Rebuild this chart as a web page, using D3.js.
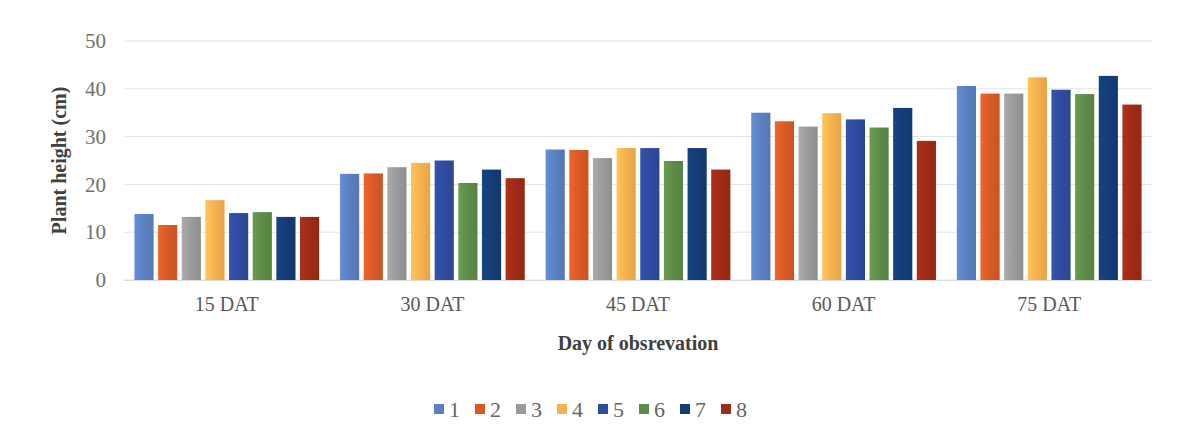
<!DOCTYPE html>
<html>
<head>
<meta charset="utf-8">
<script src="https://cdn.jsdelivr.net/npm/d3@7"></script>
<style>
  body { margin: 0; background: #fff; }
  svg text { font-family: "Liberation Serif", "DejaVu Serif", serif; }
</style>
</head>
<body>
<div id="chart"></div>
<script>
// data
const days = ["15 DAT", "30 DAT", "45 DAT", "60 DAT", "75 DAT"];
const treatments = ["1", "2", "3", "4", "5", "6", "7", "8"];
const t1 = [13.8, 22.2, 27.3, 35.0, 40.6];
const t2 = [11.5, 22.3, 27.2, 33.2, 39.0];
const t3 = [13.2, 23.6, 25.5, 32.1, 39.0];
const t4 = [16.7, 24.5, 27.6, 34.9, 42.4];
const t5 = [14.0, 25.0, 27.6, 33.6, 39.8];
const t6 = [14.2, 20.3, 24.9, 31.9, 38.9];
const t7 = [13.2, 23.1, 27.6, 36.0, 42.7];
const t8 = [13.2, 21.3, 23.1, 29.1, 36.7];
const yTicks = [0, 10, 20, 30, 40, 50];
const colors = ["#5b80c2", "#d85a26", "#9a9a9a", "#f4b14e", "#2f4b9e", "#5e8c48", "#143c76", "#9e2b16"];

const series = [t1, t2, t3, t4, t5, t6, t7, t8];

const W = 1186, H = 440;
const margin = { top: 41, right: 34, bottom: 160, left: 124 };
const width = W - margin.left - margin.right,
      height = H - margin.top - margin.bottom;

const svg = d3.select("#chart").append("svg")
    .attr("width", W)
    .attr("height", H);

// gradients to mimic the shaded bars
const defs = svg.append("defs");
colors.forEach((c, i) => {
    const g = defs.append("linearGradient")
        .attr("id", "grad" + i)
        .attr("x1", "0%").attr("x2", "100%").attr("y1", "0%").attr("y2", "0%");
    g.append("stop").attr("offset", "0%").attr("stop-color", d3.color(c).brighter(0.3));
    g.append("stop").attr("offset", "50%").attr("stop-color", c);
    g.append("stop").attr("offset", "100%").attr("stop-color", d3.color(c).darker(0.2));
});

const g = svg.append("g")
    .attr("transform", "translate(" + margin.left + "," + margin.top + ")");

const x0 = d3.scaleBand()
    .domain(days)
    .range([0, width])
    .paddingInner(0.09)
    .paddingOuter(0.045);

const x1 = d3.scaleBand()
    .domain(treatments)
    .range([0, x0.bandwidth()])
    .paddingInner(0.19)
    .paddingOuter(0.05);

const y = d3.scaleLinear()
    .domain([0, 50])
    .range([height, 0]);

// gridlines
g.append("g")
    .selectAll("line")
    .data(yTicks)
    .enter().append("line")
    .attr("x1", 0)
    .attr("x2", width)
    .attr("y1", d => y(d))
    .attr("y2", d => y(d))
    .attr("stroke", "#e4e4e4")
    .attr("stroke-width", 1);

// y axis labels
const yAxis = g.append("g")
    .call(d3.axisLeft(y).tickValues(yTicks).tickSize(0).tickPadding(18));
yAxis.select(".domain").remove();
yAxis.selectAll("text")
    .style("font-size", "21px")
    .style("font-family", "Liberation Serif, serif")
    .attr("fill", "#707070");

// x axis labels
const xAxis = g.append("g")
    .attr("transform", "translate(0," + height + ")")
    .call(d3.axisBottom(x0).tickSize(0).tickPadding(17));
xAxis.select(".domain").attr("stroke", "#d9d9d9");
xAxis.selectAll("text")
    .style("font-size", "20px")
    .style("font-family", "Liberation Serif, serif")
    .attr("fill", "#595959");

// bars
const groups = g.selectAll(".grp")
    .data(days)
    .enter().append("g")
    .attr("class", "grp")
    .attr("transform", d => "translate(" + x0(d) + ",0)");

groups.selectAll("rect")
    .data((d, di) => treatments.map((t, ti) => ({ t: t, ti: ti, v: series[ti][di] })))
    .enter().append("rect")
    .attr("x", d => x1(d.t))
    .attr("y", d => y(d.v))
    .attr("width", x1.bandwidth())
    .attr("height", d => height - y(d.v))
    .attr("fill", d => "url(#grad" + d.ti + ")");

// axis titles
svg.append("text")
    .attr("x", margin.left + width / 2)
    .attr("y", 350)
    .attr("text-anchor", "middle")
    .style("font-size", "20px")
    .style("font-weight", "bold")
    .attr("fill", "#404040")
    .text("Day of obsrevation");

svg.append("text")
    .attr("transform", "translate(66," + (margin.top + height / 2) + ") rotate(-90)")
    .attr("text-anchor", "middle")
    .style("font-size", "20px")
    .style("font-weight", "bold")
    .attr("fill", "#404040")
    .text("Plant height (cm)");

// legend
const itemW = 41;
const legend = svg.append("g")
    .attr("transform", "translate(" + (W / 2 - (treatments.length * itemW) / 2 + 5) + ",409)");
const items = legend.selectAll(".item")
    .data(treatments)
    .enter().append("g")
    .attr("class", "item")
    .attr("transform", (d, i) => "translate(" + (i * itemW) + ",0)");
items.append("rect")
    .attr("x", 0)
    .attr("y", -5)
    .attr("width", 10)
    .attr("height", 10)
    .attr("fill", (d, i) => colors[i]);
items.append("text")
    .attr("x", 15)
    .attr("y", 8)
    .style("font-size", "22px")
    .attr("fill", "#666")
    .text(d => d);
</script>
</body>
</html>
